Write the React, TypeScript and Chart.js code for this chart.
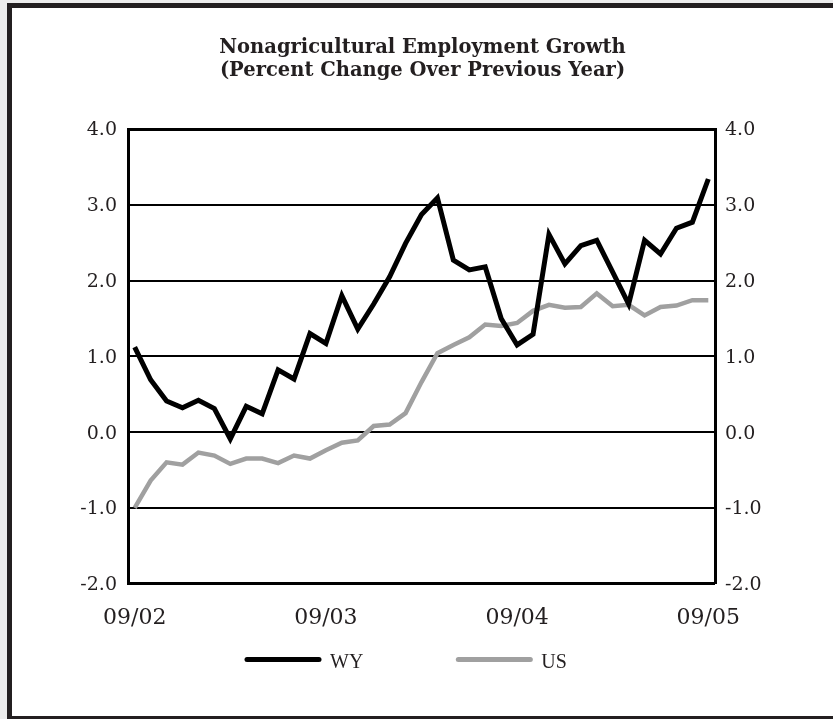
import React, { useEffect, useRef } from "react";
import { Chart, registerables } from "chart.js";

Chart.register(...registerables);

// ---- data ----
const monthLabels = [
  "09/02", "10/02", "11/02", "12/02",
  "01/03", "02/03", "03/03", "04/03", "05/03", "06/03", "07/03", "08/03", "09/03", "10/03", "11/03", "12/03",
  "01/04", "02/04", "03/04", "04/04", "05/04", "06/04", "07/04", "08/04", "09/04", "10/04", "11/04", "12/04",
  "01/05", "02/05", "03/05", "04/05", "05/05", "06/05", "07/05", "08/05", "09/05",
];
const tickMonths = [0, 12, 24, 36];
const wyValues = [
  1.12, 0.69, 0.41, 0.32, 0.42, 0.31, -0.09, 0.34, 0.24, 0.82, 0.7, 1.3, 1.17, 1.8, 1.36, 1.69, 2.05, 2.49, 2.87,
  3.09, 2.27, 2.14, 2.18, 1.5, 1.15, 1.29, 2.61, 2.22, 2.46, 2.53, 2.11, 1.69, 2.53, 2.35, 2.69, 2.77, 3.34,
];
const usValues = [
  -1.0, -0.64, -0.4, -0.43, -0.27, -0.31, -0.42, -0.35, -0.35, -0.41, -0.31, -0.35, -0.24, -0.14, -0.11, 0.08,
  0.1, 0.25, 0.66, 1.04, 1.15, 1.25, 1.42, 1.4, 1.44, 1.6, 1.68, 1.64, 1.65, 1.83, 1.66, 1.68, 1.54, 1.65, 1.67,
  1.74, 1.74,
];
const seriesNames = ["WY", "US"];
const titleLines = ["Nonagricultural Employment Growth", "(Percent Change Over Previous Year)"];
const yMin = -2;
const yMax = 4;

const TEXT = "#231f20";
const WY_COLOR = "#000000";
const US_COLOR = "#a0a0a0";

const legendPlugin = {
  id: "lineLegend",
  afterDraw(chart: any) {
    const { ctx, chartArea } = chart;
    ctx.save();
    ctx.font = '20px "Liberation Serif"';
    let x = chartArea.left + 119;
    const y = chartArea.bottom + 76;
    chart.data.datasets.forEach((ds: any) => {
      ctx.strokeStyle = ds.borderColor;
      ctx.lineWidth = 5;
      ctx.lineCap = "round";
      ctx.beginPath();
      ctx.moveTo(x, y);
      ctx.lineTo(x + 72, y);
      ctx.stroke();
      ctx.fillStyle = TEXT;
      ctx.textBaseline = "alphabetic";
      ctx.textAlign = "left";
      ctx.fillText(ds.label, x + 83, y + 8);
      x += 83 + ctx.measureText(ds.label).width + 95;
    });
    ctx.restore();
  },
};

export default function App() {
  const ref = useRef<HTMLCanvasElement | null>(null);

  useEffect(() => {
    if (!ref.current) return;
    const toPts = (arr: number[]) => arr.map((v, i) => ({ x: i, y: v }));
    const yTickFont = { family: '"DejaVu Serif"', size: 19 };
    const gridWidth = (c: any) => (c.tick && (c.tick.value === yMax || c.tick.value === yMin) ? 3 : 2);
    const chart = new Chart(ref.current, {
      type: "line",
      data: {
        datasets: [
          {
            label: seriesNames[0],
            data: toPts(wyValues),
            borderColor: WY_COLOR,
            backgroundColor: WY_COLOR,
            borderWidth: 5,
            pointRadius: 0,
            tension: 0,
            borderCapStyle: "butt",
          },
          {
            label: seriesNames[1],
            data: toPts(usValues),
            borderColor: US_COLOR,
            backgroundColor: US_COLOR,
            borderWidth: 4.5,
            pointRadius: 0,
            tension: 0,
          },
        ],
      },
      options: {
        responsive: false,
        animation: false,
        events: [],
        layout: { padding: { left: 0, right: 0, top: 0, bottom: 64 } },
        plugins: {
          legend: { display: false },
          tooltip: { enabled: false },
          title: {
            display: true,
            text: titleLines,
            color: TEXT,
            font: { family: '"DejaVu Serif"', size: 19.5, weight: "bold", lineHeight: 23 / 19.5 },
            padding: { top: 28, bottom: 47 },
          },
        },
        scales: {
          x: {
            type: "linear",
            min: -0.42,
            max: 36.42,
            afterBuildTicks: (s: any) => {
              s.ticks = tickMonths.map((v) => ({ value: v }));
            },
            ticks: {
              autoSkip: false,
              maxRotation: 0,
              padding: 21,
              color: TEXT,
              font: { family: '"DejaVu Serif"', size: 22 },
              callback: (v: any) => monthLabels[Number(v)] ?? "",
            },
            grid: { display: false, drawTicks: false },
            border: { display: false },
          },
          y: {
            position: "left",
            min: yMin,
            max: yMax,
            ticks: {
              stepSize: 1,
              padding: 11,
              labelOffset: 1.5,
              color: TEXT,
              font: yTickFont,
              callback: (v: any) => Number(v).toFixed(1),
            },
            grid: { color: "#000", lineWidth: gridWidth, drawTicks: false },
            border: { display: true, color: "#000", width: 3 },
            afterFit: (s: any) => {
              s.width = 116;
            },
          },
          y2: {
            position: "right",
            min: yMin,
            max: yMax,
            ticks: {
              stepSize: 1,
              padding: 10,
              labelOffset: 1.5,
              color: TEXT,
              font: yTickFont,
              callback: (v: any) => Number(v).toFixed(1),
            },
            grid: { display: false, drawTicks: false },
            border: { display: true, color: "#000", width: 3 },
            afterFit: (s: any) => {
              s.width = 118;
            },
          },
        },
      } as any,
      plugins: [legendPlugin],
    });
    return () => chart.destroy();
  }, []);

  return (
    <div style={{ position: "fixed", left: 0, top: 0, width: 833, height: 719, background: "#ececec", overflow: "hidden" }}>
      <div style={{ position: "absolute", left: 7, top: 3, right: 0, bottom: 0, background: "#fff" }} />
      <div style={{ position: "absolute", left: 7, top: 3, width: 5, height: 716, background: TEXT }} />
      <div style={{ position: "absolute", left: 7, top: 3, right: 0, height: 5, background: TEXT }} />
      <div style={{ position: "absolute", left: 7, top: 716, right: 0, height: 3, background: TEXT }} />
      <canvas
        ref={ref}
        width={821}
        height={708}
        style={{ position: "absolute", left: 12, top: 8, width: 821, height: 708 }}
      />
    </div>
  );
}
